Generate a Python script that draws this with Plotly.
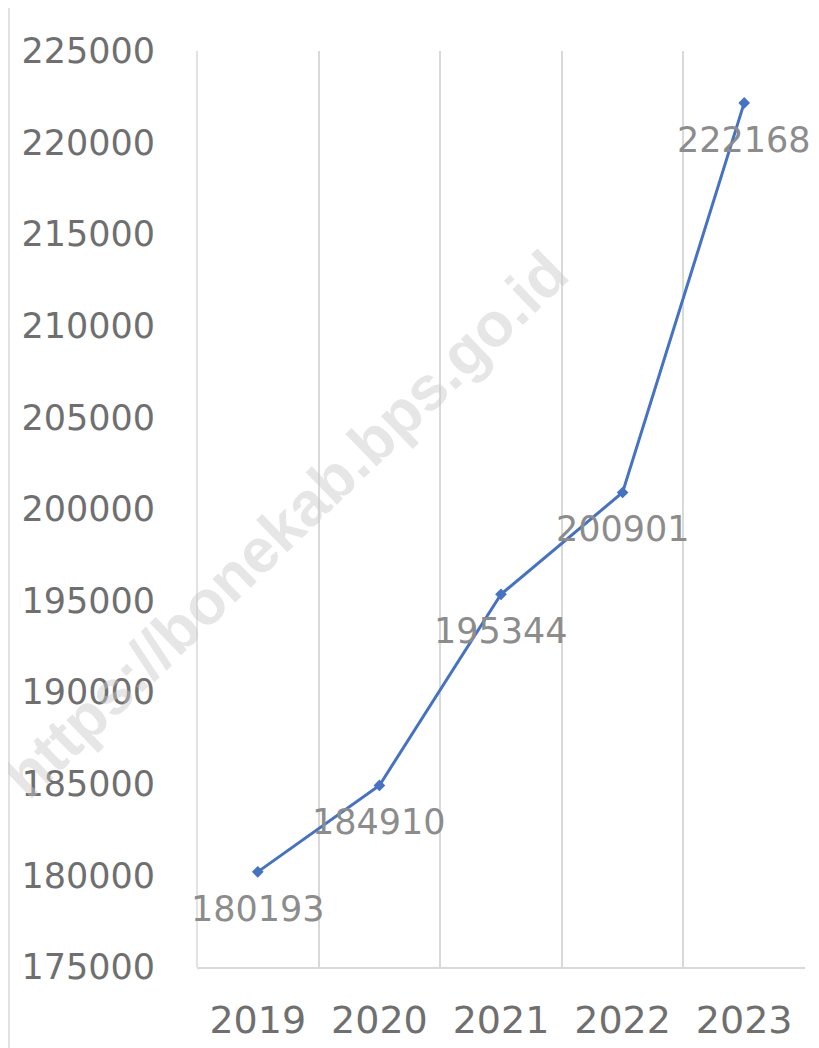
import plotly.graph_objects as go

years = ["2019", "2020", "2021", "2022", "2023"]
values = [180193, 184910, 195344, 200901, 222168]
y_ticks = [175000, 180000, 185000, 190000, 195000, 200000, 205000, 210000, 215000, 220000, 225000]
watermark = "https://bonekab.bps.go.id"

# page body has an 8px margin in the written html
OFF = 8
W, H = 819 - 2 * OFF, 1048 - OFF
L, R, T, B = 197 - OFF, 819 - OFF - 805, 51 - OFF, (1048 - OFF) - (967 - OFF)
pw, ph = W - L - R, H - T - B

fig = go.Figure()
fig.add_trace(go.Scatter(
    x=years, y=values, mode="lines+markers",
    line=dict(color="#4472C4", width=3),
    marker=dict(symbol="diamond", size=9, color="#4472C4"),
    cliponaxis=False, showlegend=False,
))

labels = [dict(x=i, y=v, xref="x", yref="y", text=str(v), showarrow=False,
               yshift=-37, xanchor="center", yanchor="middle",
               font=dict(family="DejaVu Sans", size=35, color="#8C8C8C"))
          for i, v in enumerate(values)]

wm = dict(
    text="<b>" + watermark + "</b>", xref="paper", yref="paper",
    x=(285 - 197) / pw, y=(967 - 524) / ph,
    showarrow=False, textangle=-44,
    font=dict(family="Liberation Sans", size=62, color="rgba(200,200,200,0.45)"),
    xanchor="center", yanchor="middle",
)

fig.update_layout(
    width=W, height=H,
    margin=dict(l=L, r=R, t=T, b=B, autoexpand=False),
    paper_bgcolor="white", plot_bgcolor="white",
    xaxis=dict(
        type="category", categoryorder="array", categoryarray=years,
        tickson="boundaries", showgrid=True, automargin=False,
        gridcolor="#D9D9D9", gridwidth=1.5,
        showline=True, linecolor="#D9D9D9", linewidth=1.5,
        ticks="", ticklabelstandoff=19,
        tickfont=dict(family="DejaVu Sans", size=38, color="#6F6F6F"),
        range=[-0.5, 4.5], zeroline=False,
    ),
    yaxis=dict(
        range=[175000, 225000], tickvals=y_ticks, automargin=False,
        ticktext=[str(v) for v in y_ticks],
        showgrid=False, zeroline=False, showline=False,
        ticks="outside", ticklen=34, tickcolor="rgba(0,0,0,0)",
        tickfont=dict(family="DejaVu Sans", size=35, color="#6F6F6F"),
    ),
    annotations=[wm] + labels,
    shapes=[
        dict(type="line", xref="paper", yref="paper",
             x0=-(L - 1) / pw, x1=-(L - 1) / pw, y0=-0.2, y1=1.2,
             line=dict(color="#D9D9D9", width=1.5), layer="below"),
        dict(type="line", xref="paper", yref="paper",
             x0=0, x1=0, y0=0, y1=1,
             line=dict(color="#D9D9D9", width=1.5), layer="below"),
    ],
)

fig.write_html("out.html")
